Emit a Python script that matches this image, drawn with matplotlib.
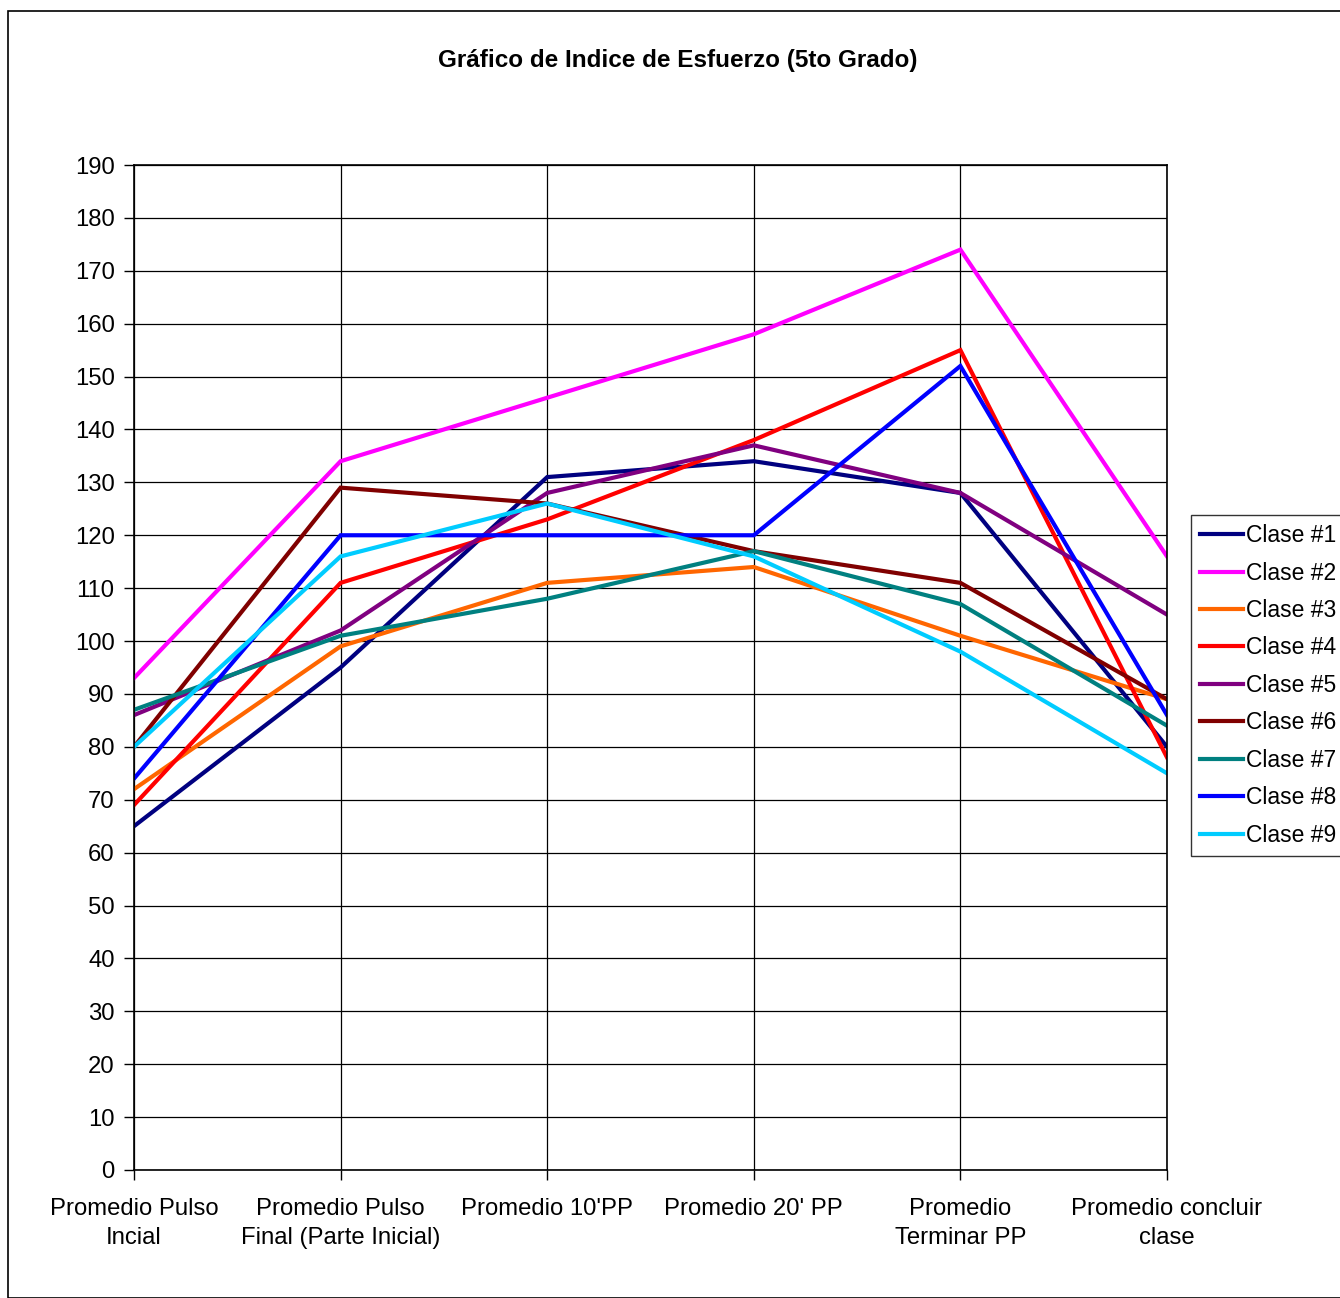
import matplotlib.pyplot as plt
from matplotlib.patches import Rectangle

plt.rcParams['font.family'] = ['Liberation Sans', 'DejaVu Sans']

# categories along the x axis
categorias = ['Promedio Pulso\nIncial', 'Promedio Pulso\nFinal (Parte Inicial)',
              "Promedio 10'PP", "Promedio 20' PP", 'Promedio\nTerminar PP',
              'Promedio concluir\nclase']

# pulse averages per class
clase1 = [65, 95, 131, 134, 128, 80]
clase2 = [93, 134, 146, 158, 174, 116]
clase3 = [72, 99, 111, 114, 101, 89]
clase4 = [69, 111, 123, 138, 155, 78]
clase5 = [86, 102, 128, 137, 128, 105]
clase6 = [80, 129, 126, 117, 111, 89]
clase7 = [87, 101, 108, 117, 107, 84]
clase8 = [74, 120, 120, 120, 152, 86]
clase9 = [80, 116, 126, 116, 98, 75]

series = [clase1, clase2, clase3, clase4, clase5, clase6, clase7, clase8, clase9]
nombres = ['Clase #%d' % i for i in range(1, 10)]
colores = ['#000080', '#FF00FF', '#FF6600', '#FF0000', '#800080',
           '#800000', '#008080', '#0000FF', '#00CCFF']

W, H = 1340, 1298
fig = plt.figure(figsize=(W / 100, H / 100), dpi=100)
ax = fig.add_axes([134 / W, 1 - 1170 / H, (1167 - 134) / W, (1170 - 165) / H])

x = list(range(len(categorias)))
for datos, nombre, color in zip(series, nombres, colores):
    ax.plot(x, datos, lw=3, color=color, label=nombre, solid_joinstyle='miter')

ax.set_xlim(0, len(categorias) - 1)
ax.set_ylim(0, 190)
ax.set_yticks(range(0, 191, 10))
ax.set_xticks(x)
ax.set_xticklabels(categorias)
for lbl in ax.get_xticklabels():
    lbl.set_linespacing(1.45)
ax.grid(True, color='black', lw=0.9)
ax.set_axisbelow(True)
ax.tick_params(axis='both', labelsize=17.2, color='black', length=7, width=1)
ax.tick_params(axis='x', pad=13)
ax.tick_params(axis='y', pad=7)
for s in ax.spines.values():
    s.set_linewidth(1.2)
    s.set_color('black')

fig.text(678 / W, 1 - 60 / H, 'Gráfico de Indice de Esfuerzo (5to Grado)',
         ha='center', va='center', fontsize=17.5, fontweight='bold')

leg = fig.legend(loc='upper left', bbox_to_anchor=(1191 / W, 1 - 515 / H),
                 fontsize=16.5, frameon=True, fancybox=False, handlelength=1.85,
                 handletextpad=0.15, borderpad=0.4, labelspacing=0.63,
                 borderaxespad=0)
leg.get_frame().set_edgecolor('black')
leg.get_frame().set_linewidth(1)

# outer chart border
fig.add_artist(Rectangle((8 / W, 0), 1.2, 1 - 11 / H, transform=fig.transFigure,
                         fill=False, edgecolor='black', lw=1.2))

fig.savefig('out.png', dpi=100)
